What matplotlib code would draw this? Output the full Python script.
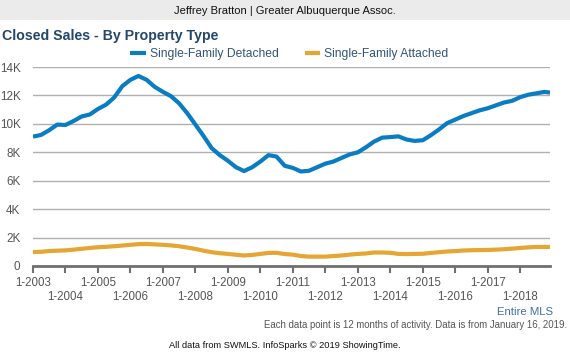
import matplotlib
matplotlib.use("Agg")
import matplotlib.pyplot as plt
from matplotlib.patches import Rectangle
import pandas as pd

plt.rcParams['font.family'] = ['Liberation Sans', 'DejaVu Sans']

# quarterly points, Jan 2003 .. Oct 2018, plus last point Dec 2018
dates = list(pd.date_range('2003-01-01', '2018-10-01', freq='QS')) + [pd.Timestamp('2018-12-01')]

detached = [
    9.10, 9.22, 9.55, 9.95, 9.92, 10.20, 10.52, 10.66,
    11.05, 11.35, 11.85, 12.65, 13.10, 13.37, 13.10, 12.60,
    12.25, 11.95, 11.45, 10.75, 9.95, 9.15, 8.30, 7.80,
    7.40, 6.95, 6.68, 6.95, 7.35, 7.80, 7.70, 7.05,
    6.90, 6.65, 6.70, 6.95, 7.20, 7.35, 7.60, 7.85,
    8.00, 8.35, 8.75, 9.03, 9.07, 9.12, 8.90, 8.80,
    8.85, 9.20, 9.60, 10.05, 10.30, 10.55, 10.75, 10.95,
    11.10, 11.30, 11.50, 11.62, 11.88, 12.05, 12.15, 12.25,
    12.20,
]
attached = [
    0.98, 1.00, 1.05, 1.08, 1.10, 1.15, 1.21, 1.27,
    1.32, 1.35, 1.39, 1.44, 1.49, 1.54, 1.55, 1.52,
    1.49, 1.45, 1.39, 1.30, 1.20, 1.08, 0.97, 0.90,
    0.85, 0.79, 0.74, 0.78, 0.85, 0.92, 0.93, 0.84,
    0.80, 0.70, 0.66, 0.66, 0.66, 0.70, 0.74, 0.80,
    0.85, 0.88, 0.95, 0.95, 0.93, 0.85, 0.84, 0.85,
    0.86, 0.92, 0.97, 1.02, 1.05, 1.09, 1.11, 1.12,
    1.13, 1.15, 1.18, 1.22, 1.27, 1.31, 1.34, 1.34,
    1.34,
]
years = list(range(2003, 2019))
yticks = [0, 2, 4, 6, 8, 10, 12, 14]
ytick_labels = ['0', '2K', '4K', '6K', '8K', '10K', '12K', '14K']

blue = '#0a7dc2'
orange = '#e5a633'

fig = plt.figure(figsize=(5.7, 3.54), dpi=100)
fig.patch.set_facecolor('white')

# header band
fig.patches.append(Rectangle((0, 1 - 20/354), 1, 20/354, transform=fig.transFigure,
                             facecolor='#ebebeb', edgecolor='none'))
fig.text(0.5, 1 - 11/354, 'Jeffrey Bratton | Greater Albuquerque Assoc.',
         ha='center', va='center', fontsize=8, color='#111111')
fig.text(2/570, 1 - 36/354, 'Closed Sales - By Property Type', ha='left', va='center',
         fontsize=10.2, fontweight='bold', color='#24476b')

ax = fig.add_axes([33/570, 1 - 266/354, 517/570, 199/354])
ax.plot(dates, detached, color=blue, lw=3, solid_capstyle='butt', label='Single-Family Detached')
ax.plot(dates, attached, color=orange, lw=3, solid_capstyle='butt', label='Single-Family Attached')

ax.set_xlim(pd.Timestamp('2003-01-01'), pd.Timestamp('2018-12-01'))
ax.set_ylim(0, 14)
ax.set_yticks(yticks)
ax.set_yticklabels(ytick_labels)
ax.grid(axis='y', color='#b0b0b0', lw=1)
ax.set_axisbelow(True)
for s in ['top', 'right', 'left']:
    ax.spines[s].set_visible(False)
ax.spines['bottom'].set_color('#707070')
ax.spines['bottom'].set_linewidth(2)
ax.tick_params(axis='y', length=0, labelsize=8.4, labelcolor='#555555', pad=9)

ax.set_xticks([pd.Timestamp(f'{y}-01-01') for y in years])
ax.set_xticklabels([f'1-{y}' if i % 2 == 0 else f'\n1-{y}' for i, y in enumerate(years)])
ax.tick_params(axis='x', length=5, width=1.5, color='#707070', labelsize=8.3,
               labelcolor='#555555', pad=3)

leg = ax.legend(loc='lower center', bbox_to_anchor=(0.5 - 2/517, 0.995), ncol=2, frameon=False,
                fontsize=8.7, handlelength=1.3, handletextpad=0.35, columnspacing=2.1,
                borderaxespad=0.25)
for t in leg.get_texts():
    t.set_color('#34557a')

fig.text(553/570, 1 - 312/354, 'Entire MLS', ha='right', va='center', fontsize=8.2, color='#3f6fa6')
fig.text(567/570, 1 - 325/354, 'Each data point is 12 months of activity. Data is from January 16, 2019.',
         ha='right', va='center', fontsize=6.95, color='#555555')
fig.text(285/570, 1 - 345/354, 'All data from SWMLS. InfoSparks \u00a9 2019 ShowingTime.',
         ha='center', va='center', fontsize=6.7, color='#111111')

fig.savefig('out.png', dpi=100)
